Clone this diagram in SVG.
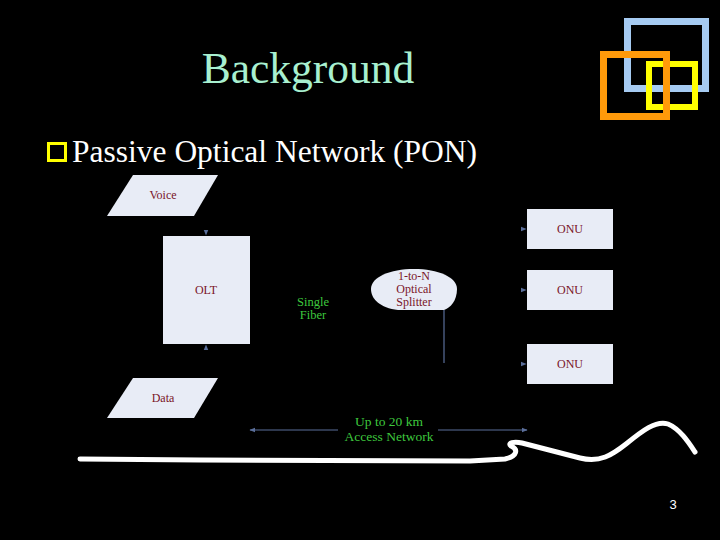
<svg xmlns="http://www.w3.org/2000/svg" width="720" height="540" viewBox="0 0 720 540">
<defs>
<style>
.serif{font-family:"Liberation Serif","Times New Roman","DejaVu Serif",serif}
.box{fill:#e8ecf6;stroke:none}
.lbl{font-size:12px;fill:#7a1428;text-anchor:middle}
.grn{font-size:12.5px;fill:#3ec83e;text-anchor:middle}
.conn{stroke:#5a6e9a;stroke-width:1.2;fill:none}
.hid{stroke:#000;stroke-width:1;fill:none}
</style>
<marker id="ah" viewBox="0 0 10 10" refX="9" refY="5" markerWidth="6" markerHeight="6" orient="auto-start-reverse" markerUnits="userSpaceOnUse">
<path d="M0,1 L10,5 L0,9 z" fill="#5a6e9a"/>
</marker>
</defs>
<rect width="720" height="540" fill="#000"/>
<g id="decor">
<rect x="627.5" y="21.5" width="78" height="67" fill="none" stroke="#a6cbf2" stroke-width="7"/>
<rect x="649" y="64" width="46" height="43" fill="none" stroke="#ffff00" stroke-width="6"/>
<rect x="603.5" y="54.5" width="63" height="62" fill="none" stroke="#ff9a0a" stroke-width="7"/>
</g>
<text class="serif" x="308" y="83" font-size="43.5" fill="#a8f0d0" text-anchor="middle">Background</text>
<rect x="48.5" y="143.5" width="17" height="17" fill="none" stroke="#ffff00" stroke-width="3"/>
<text class="serif" x="72" y="162" font-size="31.5" fill="#ffffff">Passive Optical Network (PON)</text>
<g id="connectors">
<line x1="206" y1="218" x2="206" y2="235" marker-end="url(#ah)" stroke="#000"/>
<line x1="206" y1="376" x2="206" y2="345" marker-end="url(#ah)" stroke="#000"/>
<line class="conn" x1="444" y1="310" x2="444" y2="363"/>
<line class="hid" x1="444" y1="229" x2="526" y2="229" marker-end="url(#ah)"/>
<line class="hid" x1="444" y1="290" x2="526" y2="290" marker-end="url(#ah)"/>
<line class="hid" x1="444" y1="364" x2="526" y2="364" marker-end="url(#ah)"/>
<line class="conn" x1="250" y1="430" x2="527" y2="430" marker-start="url(#ah)" marker-end="url(#ah)"/>
</g>
<g id="voice">
<polygon class="box" points="133,175 218,175 194,216 107,216"/>
<text class="serif lbl" x="163" y="199">Voice</text>
</g>
<g id="olt">
<rect class="box" x="163" y="236" width="87" height="108"/>
<text class="serif lbl" x="206" y="294">OLT</text>
</g>
<g id="data">
<polygon class="box" points="133,378 218,378 194,418 107,418"/>
<text class="serif lbl" x="163" y="402">Data</text>
</g>
<g id="fiber">
<text class="serif grn" x="313" y="306">Single</text>
<text class="serif grn" x="313" y="319">Fiber</text>
</g>
<g id="splitter">
<path class="box" d="M444,310 L398,310 C380,308 371,299 371,289 C371,277 390,269 414,269 C438,269 457,277 457,289 C457,301 450,308 444,310 z"/>
<text class="serif lbl" x="414" y="280">1-to-N</text>
<text class="serif lbl" x="414" y="293">Optical</text>
<text class="serif lbl" x="414" y="306">Splitter</text>
</g>
<g id="onu1">
<rect class="box" x="527" y="209" width="86" height="40"/>
<text class="serif lbl" x="570" y="233">ONU</text>
</g>
<g id="onu2">
<rect class="box" x="527" y="270" width="86" height="40"/>
<text class="serif lbl" x="570" y="294">ONU</text>
</g>
<g id="onu3">
<rect class="box" x="527" y="344" width="86" height="40"/>
<text class="serif lbl" x="570" y="368">ONU</text>
</g>
<g id="range">
<rect x="338" y="414" width="100" height="30" fill="#000"/>
<text class="serif grn" x="389" y="426" style="font-size:13.5px">Up to 20 km</text>
<text class="serif grn" x="389" y="441" style="font-size:13.5px">Access Network</text>
</g>
<path d="M80,459 L200,460 L470,461 L505,459 C518,456 518,449 511,446 C507,443 514,441 522,443 L580,458 C600,463 612,455 626,444 C642,431 656,420 668,424 C680,429 689,443 695,452" fill="none" stroke="#fff" stroke-width="5" stroke-linecap="round" stroke-linejoin="round"/>
<text x="673" y="509" font-family="Liberation Sans, sans-serif" font-size="13" fill="#fff" text-anchor="middle">3</text>
</svg>
